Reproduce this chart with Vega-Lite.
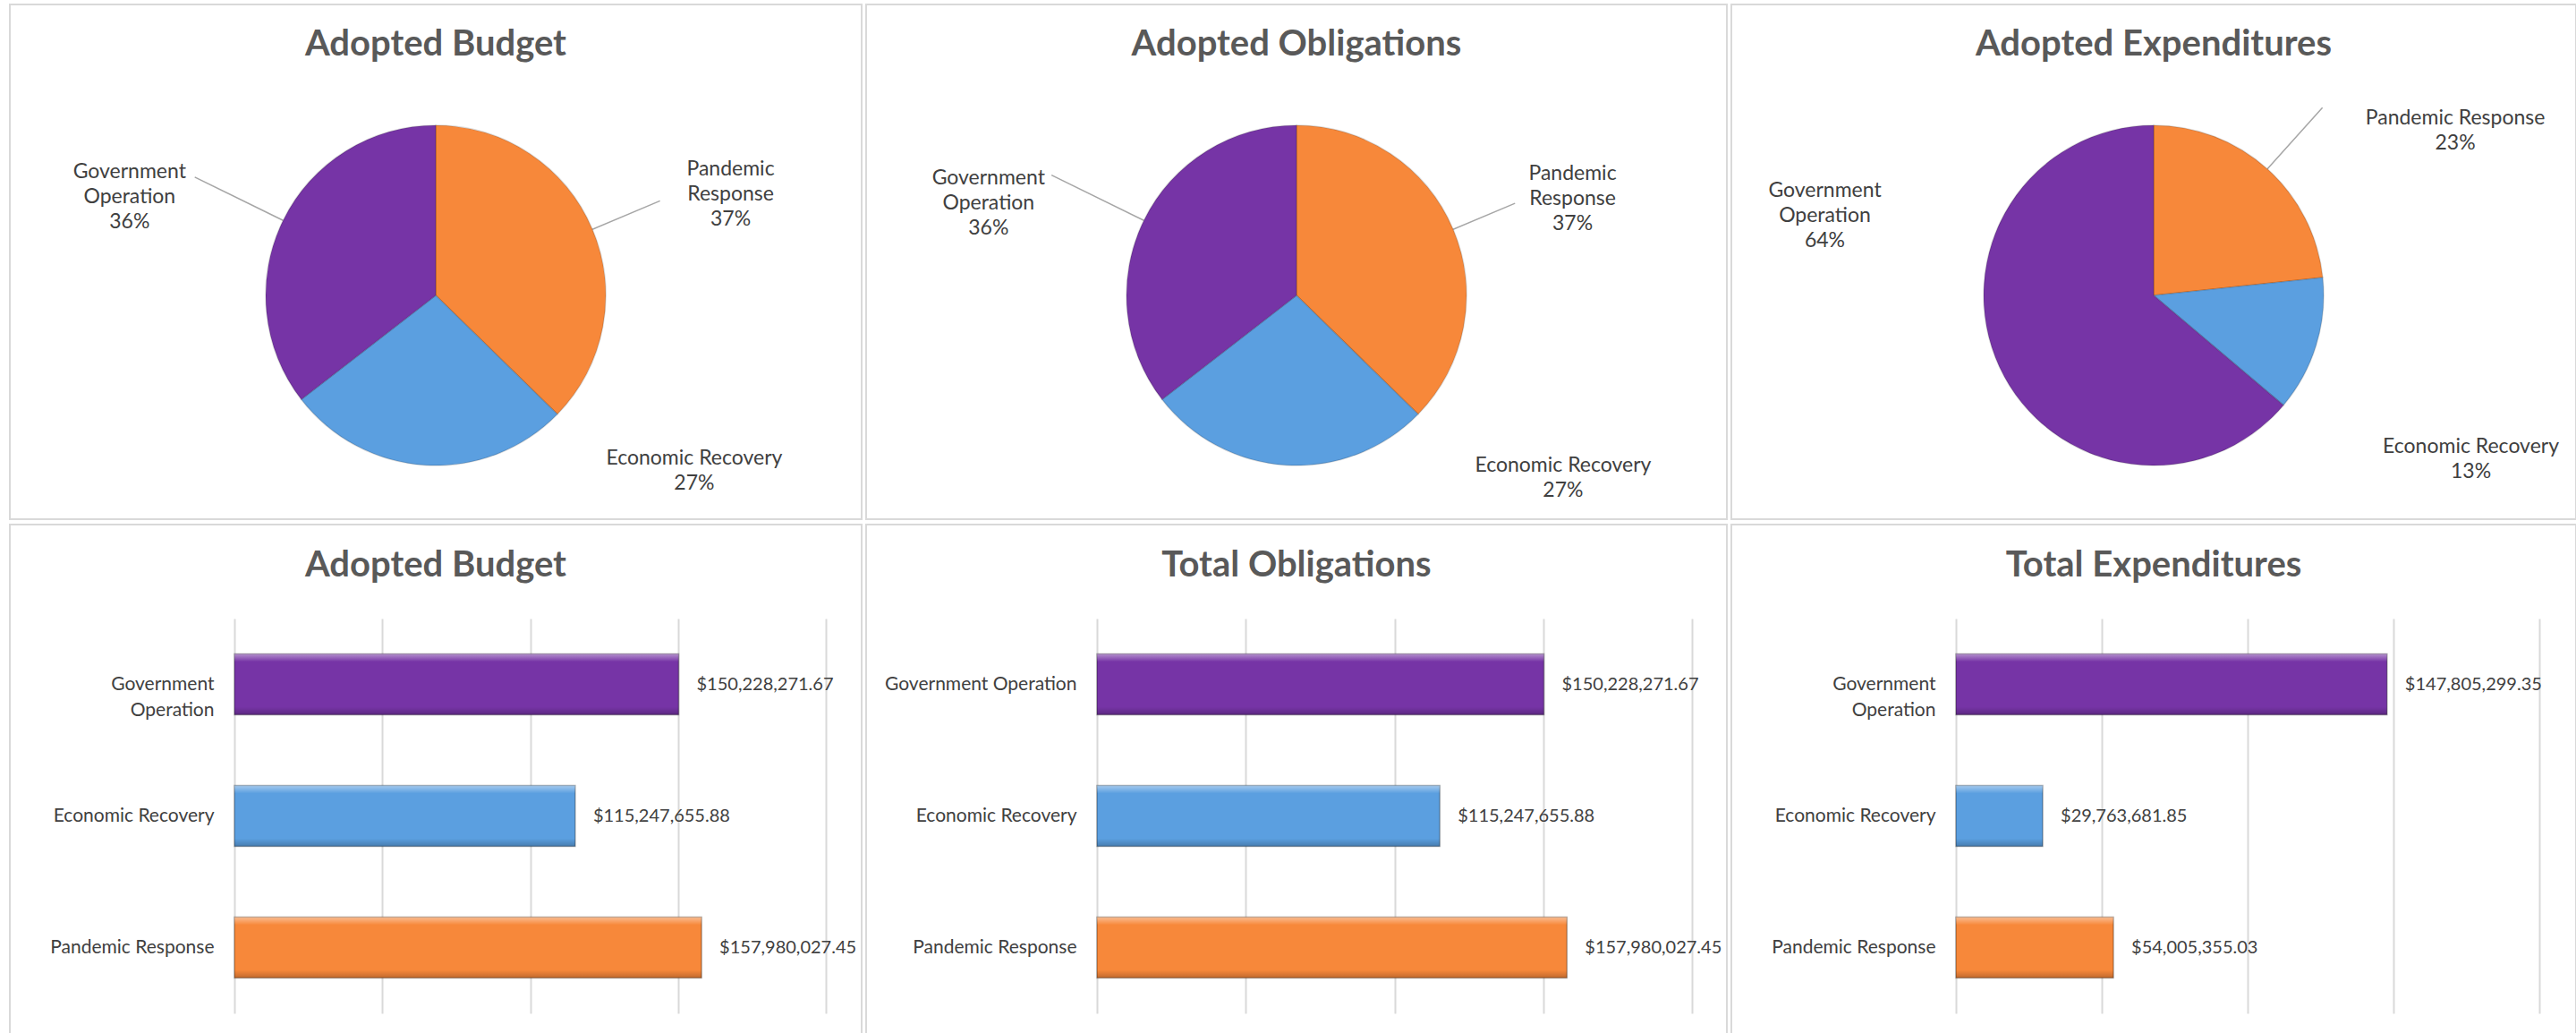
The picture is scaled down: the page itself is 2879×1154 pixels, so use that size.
{
  "$schema": "https://vega.github.io/schema/vega-lite/v6.json",
  "background": "white",
  "padding": {"left": 10, "top": 4, "right": 0, "bottom": 0},
  "spacing": 4,
  "config": {
    "view": {"stroke": "#d9d9d9", "strokeWidth": 2},
    "font": "Lato",
    "axis": {"labelFont": "Lato", "labelFontSize": 21, "labelColor": "#404040"},
    "text": {"font": "Lato", "fontSize": 21, "fill": "#404040"}
  },
  "datasets": {
    "budget": [
      {"category": "Pandemic Response", "value": 157980027.45, "k": 1, "label": "Pandemic\nResponse\n37%"},
      {"category": "Economic Recovery", "value": 115247655.88, "k": 2, "label": "Economic Recovery\n27%"},
      {"category": "Government Operation", "value": 150228271.67, "k": 3, "label": "Government\nOperation\n36%"}
    ],
    "obligations": [
      {"category": "Pandemic Response", "value": 157980027.45, "k": 1, "label": "Pandemic\nResponse\n37%"},
      {"category": "Economic Recovery", "value": 115247655.88, "k": 2, "label": "Economic Recovery\n27%"},
      {"category": "Government Operation", "value": 150228271.67, "k": 3, "label": "Government\nOperation\n36%"}
    ],
    "expenditures": [
      {"category": "Pandemic Response", "value": 54005355.03, "k": 1, "label": "Pandemic Response\n23%"},
      {"category": "Economic Recovery", "value": 29763681.85, "k": 2, "label": "Economic Recovery\n13%"},
      {"category": "Government Operation", "value": 147805299.35, "k": 3, "label": "Government\nOperation\n64%"}
    ]
  },
  "vconcat": [
    {
      "spacing": 3,
      "hconcat": [
        {
          "width": 952, "height": 575,
          "title": {"text": "Adopted Budget", "orient": "top", "anchor": "middle", "frame": "group", "baseline": "middle", "offset": -85, "font": "Lato", "fontSize": 40, "fontWeight": "bold", "color": "#595959"},
          "data": {"name": "budget"},
          "encoding": {
            "theta": {"field": "value", "type": "quantitative", "stack": true},
            "order": {"field": "k", "type": "quantitative"},
            "y": {"datum": 0, "type": "quantitative", "scale": {"domain": [-1, 1], "range": [650, 0]}, "axis": null}
          },
          "layer": [
            {"mark": {"type": "arc", "innerRadius": 190, "outerRadius": {"expr": "datum.k == 1 ? 272 : datum.k == 3 ? 300 : 190"}, "padAngle": 3.1, "filled": false, "stroke": "#a6a6a6", "strokeWidth": 1.5, "strokeOpacity": {"expr": "datum.k == 2 ? 0 : 1"}}},
            {"mark": {"type": "arc", "outerRadius": 190, "stroke": "#000000", "strokeOpacity": 0.15, "strokeWidth": 1.5},
             "encoding": {"color": {"field": "category", "type": "nominal", "scale": {"domain": ["Government Operation", "Economic Recovery", "Pandemic Response"], "range": ["#7634A6", "#5B9FE0", "#F7883A"]}, "legend": null}}},
            {"mark": {"type": "text", "radius": 350, "lineBreak": "\n", "align": "center", "baseline": "middle", "lineHeight": 28, "fontSize": 23,
                      "dx": {"expr": "datum.k == 1 ? 7 : datum.k == 2 ? 309 : -28"},
                      "dy": {"expr": "datum.k == 1 ? -5 : datum.k == 2 ? -167 : 16"}},
             "encoding": {"text": {"field": "label", "type": "nominal"}}}
          ]
        },
        {
          "width": 962, "height": 575,
          "title": {"text": "Adopted Obligations", "orient": "top", "anchor": "middle", "frame": "group", "baseline": "middle", "offset": -85, "font": "Lato", "fontSize": 40, "fontWeight": "bold", "color": "#595959"},
          "data": {"name": "obligations"},
          "encoding": {
            "theta": {"field": "value", "type": "quantitative", "stack": true},
            "order": {"field": "k", "type": "quantitative"},
            "y": {"datum": 0, "type": "quantitative", "scale": {"domain": [-1, 1], "range": [650, 0]}, "axis": null}
          },
          "layer": [
            {"mark": {"type": "arc", "innerRadius": 190, "outerRadius": {"expr": "datum.k == 1 ? 265 : datum.k == 3 ? 305 : 190"}, "padAngle": 3.1, "filled": false, "stroke": "#a6a6a6", "strokeWidth": 1.5, "strokeOpacity": {"expr": "datum.k == 2 ? 0 : 1"}}},
            {"mark": {"type": "arc", "outerRadius": 190, "stroke": "#000000", "strokeOpacity": 0.15, "strokeWidth": 1.5},
             "encoding": {"color": {"field": "category", "type": "nominal", "scale": {"domain": ["Government Operation", "Economic Recovery", "Pandemic Response"], "range": ["#7634A6", "#5B9FE0", "#F7883A"]}, "legend": null}}},
            {"mark": {"type": "text", "radius": 350, "lineBreak": "\n", "align": "center", "baseline": "middle", "lineHeight": 28, "fontSize": 23,
                      "dx": {"expr": "datum.k == 1 ? -14 : datum.k == 2 ? 318 : -30"},
                      "dy": {"expr": "datum.k == 1 ? 0 : datum.k == 2 ? -159 : 23"}},
             "encoding": {"text": {"field": "label", "type": "nominal"}}}
          ]
        },
        {
          "width": 944, "height": 575,
          "title": {"text": "Adopted Expenditures", "orient": "top", "anchor": "middle", "frame": "group", "baseline": "middle", "offset": -85, "font": "Lato", "fontSize": 40, "fontWeight": "bold", "color": "#595959"},
          "data": {"name": "expenditures"},
          "encoding": {
            "theta": {"field": "value", "type": "quantitative", "stack": true},
            "order": {"field": "k", "type": "quantitative"},
            "y": {"datum": 0, "type": "quantitative", "scale": {"domain": [-1, 1], "range": [650, 0]}, "axis": null}
          },
          "layer": [
            {"mark": {"type": "arc", "innerRadius": 190, "outerRadius": {"expr": "datum.k == 1 ? 282 : 190"}, "padAngle": 3.1, "filled": false, "stroke": "#a6a6a6", "strokeWidth": 1.5, "strokeOpacity": {"expr": "datum.k == 1 ? 1 : 0"}}},
            {"mark": {"type": "arc", "outerRadius": 190, "stroke": "#000000", "strokeOpacity": 0.15, "strokeWidth": 1.5},
             "encoding": {"color": {"field": "category", "type": "nominal", "scale": {"domain": ["Government Operation", "Economic Recovery", "Pandemic Response"], "range": ["#7634A6", "#5B9FE0", "#F7883A"]}, "legend": null}}},
            {"mark": {"type": "text", "radius": 350, "lineBreak": "\n", "align": "center", "baseline": "middle", "lineHeight": 28, "fontSize": 23,
                      "dx": {"expr": "datum.k == 1 ? 103 : datum.k == 2 ? 20 : -50"},
                      "dy": {"expr": "datum.k == 1 ? 62 : datum.k == 2 ? 66 : -264"}},
             "encoding": {"text": {"field": "label", "type": "nominal"}}}
          ]
        }
      ]
    },
    {
      "spacing": 3,
      "hconcat": [
        {
          "width": 952, "height": 575,
          "title": {"text": "Adopted Budget", "orient": "top", "anchor": "middle", "frame": "group", "baseline": "middle", "offset": -86, "font": "Lato", "fontSize": 40, "fontWeight": "bold", "color": "#595959"},
          "data": {"name": "budget"},
          "encoding": {
            "y": {"field": "category", "type": "nominal", "sort": ["Government Operation", "Economic Recovery", "Pandemic Response"],
                  "scale": {"range": [105, 546], "paddingInner": 0.537, "paddingOuter": 0.2685},
                  "axis": {"title": null, "offset": -251, "domain": false, "ticks": false, "labelPadding": 23, "labelLimit": 400, "labelLineHeight": 29, "labelBaseline": "middle", "labelAlign": "right",
                           "labelExpr": "datum.label == 'Government Operation' ? ['Government', 'Operation'] : datum.label"}},
            "x": {"field": "value", "type": "quantitative", "scale": {"domain": [0, 200000000], "range": [251, 912], "nice": false},
                  "axis": {"orient": "top", "title": null, "labels": false, "ticks": false, "domain": false, "grid": true, "gridColor": "#d9d9d9", "gridWidth": 2, "values": [0, 50000000, 100000000, 150000000, 200000000]}}
          },
          "layer": [
            {"mark": {"type": "bar", "stroke": "#000000", "strokeOpacity": 0.3, "strokeWidth": 1.5},
             "encoding": {"color": {"field": "category", "type": "nominal", "scale": {"domain": ["Government Operation", "Economic Recovery", "Pandemic Response"], "range": ["#7634A6", "#5B9FE0", "#F7883A"]}, "legend": null}}},
            {"mark": {"type": "bar", "color": {"gradient": "linear", "x1": 0, "y1": 0, "x2": 0, "y2": 1, "stops": [{"offset": 0, "color": "rgba(255,255,255,0.45)"}, {"offset": 0.13, "color": "rgba(255,255,255,0)"}, {"offset": 0.87, "color": "rgba(0,0,0,0)"}, {"offset": 1, "color": "rgba(0,0,0,0.22)"}]}}},
            {"mark": {"type": "text", "align": "left", "baseline": "middle", "dx": 20, "fontSize": 20},
             "encoding": {"text": {"field": "value", "type": "quantitative", "format": "$,.2f"}}}
          ]
        },
        {
          "width": 962, "height": 575,
          "title": {"text": "Total Obligations", "orient": "top", "anchor": "middle", "frame": "group", "baseline": "middle", "offset": -86, "font": "Lato", "fontSize": 40, "fontWeight": "bold", "color": "#595959"},
          "data": {"name": "obligations"},
          "encoding": {
            "y": {"field": "category", "type": "nominal", "sort": ["Government Operation", "Economic Recovery", "Pandemic Response"],
                  "scale": {"range": [105, 546], "paddingInner": 0.537, "paddingOuter": 0.2685},
                  "axis": {"title": null, "offset": -258, "domain": false, "ticks": false, "labelPadding": 23, "labelLimit": 400, "labelBaseline": "middle", "labelAlign": "right"}},
            "x": {"field": "value", "type": "quantitative", "scale": {"domain": [0, 200000000], "range": [258, 923], "nice": false},
                  "axis": {"orient": "top", "title": null, "labels": false, "ticks": false, "domain": false, "grid": true, "gridColor": "#d9d9d9", "gridWidth": 2, "values": [0, 50000000, 100000000, 150000000, 200000000]}}
          },
          "layer": [
            {"mark": {"type": "bar", "stroke": "#000000", "strokeOpacity": 0.3, "strokeWidth": 1.5},
             "encoding": {"color": {"field": "category", "type": "nominal", "scale": {"domain": ["Government Operation", "Economic Recovery", "Pandemic Response"], "range": ["#7634A6", "#5B9FE0", "#F7883A"]}, "legend": null}}},
            {"mark": {"type": "bar", "color": {"gradient": "linear", "x1": 0, "y1": 0, "x2": 0, "y2": 1, "stops": [{"offset": 0, "color": "rgba(255,255,255,0.45)"}, {"offset": 0.13, "color": "rgba(255,255,255,0)"}, {"offset": 0.87, "color": "rgba(0,0,0,0)"}, {"offset": 1, "color": "rgba(0,0,0,0.22)"}]}}},
            {"mark": {"type": "text", "align": "left", "baseline": "middle", "dx": 20, "fontSize": 20},
             "encoding": {"text": {"field": "value", "type": "quantitative", "format": "$,.2f"}}}
          ]
        },
        {
          "width": 944, "height": 575,
          "title": {"text": "Total Expenditures", "orient": "top", "anchor": "middle", "frame": "group", "baseline": "middle", "offset": -86, "font": "Lato", "fontSize": 40, "fontWeight": "bold", "color": "#595959"},
          "data": {"name": "expenditures"},
          "encoding": {
            "y": {"field": "category", "type": "nominal", "sort": ["Government Operation", "Economic Recovery", "Pandemic Response"],
                  "scale": {"range": [105, 546], "paddingInner": 0.537, "paddingOuter": 0.2685},
                  "axis": {"title": null, "offset": -251, "domain": false, "ticks": false, "labelPadding": 23, "labelLimit": 400, "labelLineHeight": 29, "labelBaseline": "middle", "labelAlign": "right",
                           "labelExpr": "datum.label == 'Government Operation' ? ['Government', 'Operation'] : datum.label"}},
            "x": {"field": "value", "type": "quantitative", "scale": {"domain": [0, 200000000], "range": [251, 903], "nice": false},
                  "axis": {"orient": "top", "title": null, "labels": false, "ticks": false, "domain": false, "grid": true, "gridColor": "#d9d9d9", "gridWidth": 2, "values": [0, 50000000, 100000000, 150000000, 200000000]}}
          },
          "layer": [
            {"mark": {"type": "bar", "stroke": "#000000", "strokeOpacity": 0.3, "strokeWidth": 1.5},
             "encoding": {"color": {"field": "category", "type": "nominal", "scale": {"domain": ["Government Operation", "Economic Recovery", "Pandemic Response"], "range": ["#7634A6", "#5B9FE0", "#F7883A"]}, "legend": null}}},
            {"mark": {"type": "bar", "color": {"gradient": "linear", "x1": 0, "y1": 0, "x2": 0, "y2": 1, "stops": [{"offset": 0, "color": "rgba(255,255,255,0.45)"}, {"offset": 0.13, "color": "rgba(255,255,255,0)"}, {"offset": 0.87, "color": "rgba(0,0,0,0)"}, {"offset": 1, "color": "rgba(0,0,0,0.22)"}]}}},
            {"mark": {"type": "text", "align": "left", "baseline": "middle", "dx": 20, "fontSize": 20},
             "encoding": {"text": {"field": "value", "type": "quantitative", "format": "$,.2f"}}}
          ]
        }
      ]
    }
  ]
}
